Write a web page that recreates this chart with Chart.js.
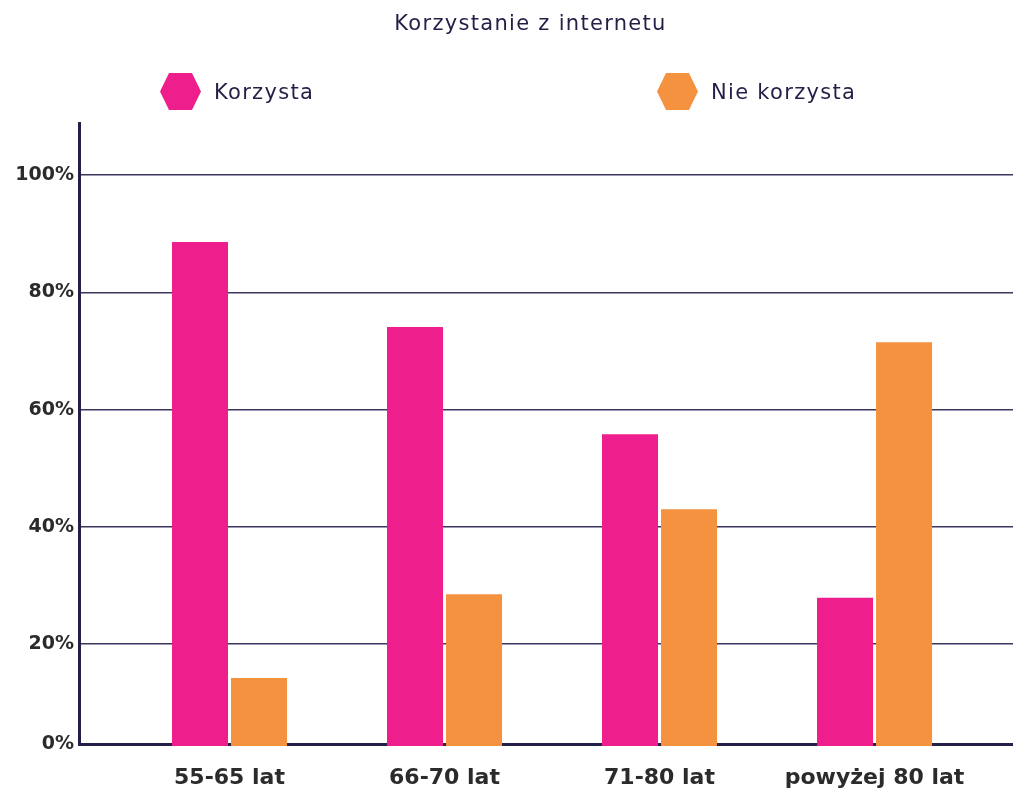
<!DOCTYPE html>
<html lang="pl">
<head>
<meta charset="utf-8">
<title>Korzystanie z internetu</title>
<script src="https://cdn.jsdelivr.net/npm/chart.js@4.4.1/dist/chart.umd.min.js"></script>
<style>
    html, body { margin: 0; padding: 0; background: #fff; }
    #wrap { position: relative; width: 1013px; height: 795px; }
    #title {
        position: absolute;
        top: 8px;
        left: 48px;
        right: 0;
        line-height: 30px;
        text-align: center;
        font-family: "DejaVu Sans", sans-serif;
        font-size: 21px;
        letter-spacing: 1.3px;
        color: #231f47;
    }
    .legend-item {
        position: absolute;
        top: 73px;
        height: 37px;
        display: flex;
        align-items: center;
        font-family: "DejaVu Sans", sans-serif;
        font-size: 21px;
        letter-spacing: 1.3px;
        color: #231f47;
    }
    .legend-item .hex {
        width: 41px;
        height: 37px;
        margin-right: 13px;
        clip-path: polygon(22% 0, 78% 0, 100% 50%, 78% 100%, 22% 100%, 0 50%);
    }
</style>
</head>
<body>
<div id="wrap">
    <canvas id="chart"></canvas>
    <div id="title"></div>
    <div id="legend"></div>
</div>
<script>
    // --- data ---
    const chartTitle = 'Korzystanie z internetu';
    const categories = ['55-65 lat', '66-70 lat', '71-80 lat', 'powyżej 80 lat'];
    const seriesNames = ['Korzysta', 'Nie korzysta'];
    const korzysta = [88.6, 74.1, 55.8, 27.9];
    const nieKorzysta = [14.2, 28.5, 43.0, 71.5];
    // the original draws its "0%" line a little above true zero, so the bottom tick is 2.94
    const yTickValues = [2.94, 20, 40, 60, 80, 100];
    const yTickLabels = ['0%', '20%', '40%', '60%', '80%', '100%'];

    const colors = ['#ee1f8c', '#f5923f'];
    const navy = '#231f47';
    const labelColor = '#2b2a2c';

    const series = [korzysta, nieKorzysta];

    const datasets = series.map((vals, s) => ({
        label: seriesNames[s],
        data: vals.map((v, i) => ({ x: i, y: v })),
        backgroundColor: colors[s],
        borderWidth: 0,
        base: 0,
        categoryPercentage: 0.549,
        barPercentage: 0.949,
        clip: { left: 0, top: 0, right: 0, bottom: 2 }
    }));

    document.getElementById('title').textContent = chartTitle;

    // legend in html (items sit far apart in the original)
    const legendLeft = [160, 657];
    const legendEl = document.getElementById('legend');
    seriesNames.forEach((name, s) => {
        const item = document.createElement('div');
        item.className = 'legend-item';
        item.style.left = legendLeft[s] + 'px';
        const hex = document.createElement('span');
        hex.className = 'hex';
        hex.style.background = colors[s];
        item.appendChild(hex);
        item.appendChild(document.createTextNode(name));
        legendEl.appendChild(item);
    });

    const fontFamily = '"DejaVu Sans", sans-serif';

    new Chart(document.getElementById('chart'), {
        type: 'bar',
        data: { datasets: datasets },
        options: {
            responsive: true,
            maintainAspectRatio: false,
            animation: false,
            layout: { padding: { left: 0, right: 0, top: 123, bottom: 0 } },
            plugins: {
                legend: { display: false },
                tooltip: { enabled: false },
                title: { display: false }
            },
            scales: {
                x: {
                    type: 'linear',
                    offset: false,
                    min: -0.7,
                    max: 3.644,
                    grid: { display: false, drawTicks: false, offset: false },
                    border: { display: false },
                    afterBuildTicks: (scale) => {
                        scale.ticks = categories.map((c, i) => ({ value: i }));
                    },
                    afterFit: (scale) => { scale.height = 51; },
                    ticks: {
                        autoSkip: false,
                        maxRotation: 0,
                        padding: 21,
                        color: labelColor,
                        font: { family: fontFamily, size: 22, weight: 'bold' },
                        callback: (v) => categories[v]
                    }
                },
                y: {
                    min: 2.94,
                    max: 108.9,
                    z: 1,
                    afterBuildTicks: (scale) => {
                        scale.ticks = yTickValues.map(v => ({ value: v }));
                    },
                    afterFit: (scale) => { scale.width = 79; },
                    grid: {
                        drawTicks: false,
                        color: (ctx) => ctx.index === 0 ? navy : '#3a365e',
                        lineWidth: (ctx) => ctx.index === 0 ? 3 : 1.5
                    },
                    border: { color: navy, width: 3 },
                    ticks: {
                        padding: 5,
                        color: labelColor,
                        font: { family: fontFamily, size: 19, weight: 'bold' },
                        callback: (v, i) => yTickLabels[i]
                    }
                }
            }
        }
    });
</script>
</body>
</html>
